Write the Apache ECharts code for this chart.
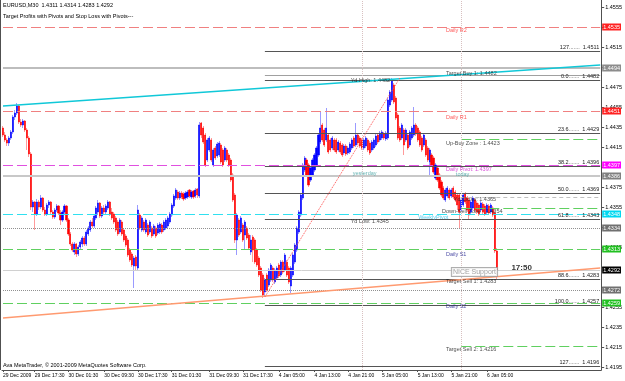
<!DOCTYPE html>
<html><head><meta charset="utf-8">
<script src="https://cdn.jsdelivr.net/npm/echarts@6/dist/echarts.min.js"></script>
<style>html,body{margin:0;padding:0;background:#fff}#c{width:625px;height:381px}</style>
</head><body><div id="c"></div>
<script>
// ---- DATA ----
const titleLine1 = 'EURUSD,M30  1.4311 1.4314 1.4283 1.4292';
const titleLine2 = 'Target Profits with Pivots and Stop Loss with Pivots---';
const footerText = 'Ava MetaTrader, \u00a9 2001-2009 MetaQuotes Software Corp.';

// [open, high, low, close] per M30 bar
const bars = [
[1.4434,1.4436,1.4425,1.4427],[1.4427,1.4430,1.4420,1.4422],[1.4422,1.4424,1.4416,1.4419],[1.4419,1.4426,1.4416,1.4424],[1.4424,1.4432,1.4422,1.4430],
[1.4430,1.4447,1.4428,1.4445],[1.4445,1.4452,1.4442,1.4449],[1.4449,1.4459,1.4447,1.4456],[1.4456,1.4457,1.4438,1.4440],[1.4440,1.4443,1.4435,1.4437],
[1.4437,1.4443,1.4434,1.4441],[1.4441,1.4442,1.4430,1.4432],[1.4432,1.4434,1.4412,1.4424],[1.4424,1.4426,1.4405,1.4408],[1.4408,1.4410,1.4352,1.4355],
[1.4355,1.4362,1.4350,1.4360],[1.4360,1.4361,1.4332,1.4348],[1.4348,1.4363,1.4346,1.4360],[1.4360,1.4362,1.4352,1.4355],[1.4355,1.4367,1.4353,1.4364],
[1.4364,1.4365,1.4350,1.4352],[1.4352,1.4355,1.4346,1.4348],[1.4348,1.4359,1.4346,1.4357],[1.4357,1.4362,1.4354,1.4360],[1.4360,1.4361,1.4348,1.4350],
[1.4350,1.4352,1.4343,1.4345],[1.4345,1.4354,1.4343,1.4352],[1.4352,1.4358,1.4350,1.4356],[1.4356,1.4357,1.4347,1.4349],[1.4349,1.4352,1.4337,1.4342],
[1.4342,1.4352,1.4340,1.4350],[1.4350,1.4358,1.4348,1.4356],[1.4356,1.4357,1.4340,1.4342],[1.4342,1.4344,1.4326,1.4328],[1.4328,1.4330,1.4316,1.4318],
[1.4318,1.4320,1.4310,1.4312],[1.4310,1.4320,1.4307,1.4318],[1.4318,1.4319,1.4305,1.4308],[1.4308,1.4317,1.4306,1.4315],[1.4315,1.4322,1.4312,1.4320],
[1.4318,1.4326,1.4315,1.4324],[1.4324,1.4326,1.4316,1.4318],[1.4318,1.4332,1.4316,1.4330],[1.4328,1.4336,1.4326,1.4334],[1.4332,1.4342,1.4330,1.4340],
[1.4340,1.4344,1.4334,1.4336],[1.4336,1.4348,1.4334,1.4346],[1.4344,1.4356,1.4342,1.4354],[1.4350,1.4362,1.4347,1.4359],[1.4359,1.4360,1.4344,1.4346],
[1.4346,1.4356,1.4344,1.4354],[1.4354,1.4357,1.4348,1.4350],[1.4350,1.4358,1.4348,1.4356],[1.4354,1.4362,1.4352,1.4360],[1.4360,1.4361,1.4346,1.4348],
[1.4350,1.4354,1.4342,1.4344],[1.4348,1.4350,1.4338,1.4340],[1.4344,1.4346,1.4330,1.4332],[1.4340,1.4342,1.4326,1.4328],[1.4330,1.4344,1.4328,1.4342],
[1.4340,1.4342,1.4326,1.4328],[1.4332,1.4334,1.4320,1.4322],[1.4326,1.4328,1.4315,1.4317],[1.4322,1.4324,1.4305,1.4307],[1.4312,1.4314,1.4300,1.4302],
[1.4308,1.4310,1.4295,1.4297],[1.4296,1.4306,1.4274,1.4304],[1.4305,1.4307,1.4292,1.4296],[1.4294,1.4357,1.4292,1.4352],[1.4347,1.4349,1.4332,1.4334],
[1.4332,1.4346,1.4330,1.4344],[1.4340,1.4342,1.4330,1.4332],[1.4330,1.4344,1.4328,1.4342],[1.4337,1.4339,1.4325,1.4327],[1.4330,1.4342,1.4328,1.4340],
[1.4334,1.4336,1.4324,1.4326],[1.4328,1.4338,1.4326,1.4336],[1.4334,1.4336,1.4324,1.4326],[1.4329,1.4339,1.4327,1.4337],[1.4330,1.4340,1.4328,1.4338],
[1.4337,1.4339,1.4328,1.4330],[1.4332,1.4342,1.4330,1.4340],[1.4334,1.4344,1.4332,1.4342],[1.4336,1.4346,1.4334,1.4344],[1.4340,1.4350,1.4338,1.4348],
[1.4347,1.4359,1.4345,1.4357],[1.4356,1.4368,1.4354,1.4366],[1.4364,1.4374,1.4362,1.4372],[1.4370,1.4372,1.4362,1.4364],[1.4364,1.4371,1.4362,1.4369],
[1.4369,1.4371,1.4363,1.4365],[1.4368,1.4370,1.4361,1.4363],[1.4364,1.4371,1.4362,1.4369],[1.4365,1.4372,1.4363,1.4370],[1.4372,1.4373,1.4364,1.4366],
[1.4365,1.4372,1.4363,1.4370],[1.4371,1.4372,1.4363,1.4365],[1.4366,1.4374,1.4364,1.4372],[1.4373,1.4374,1.4364,1.4367],[1.4366,1.4440,1.4364,1.4437],
[1.4439,1.4440,1.4424,1.4427],[1.4434,1.4436,1.4418,1.4420],[1.4427,1.4429,1.4395,1.4397],[1.4402,1.4424,1.4400,1.4422],[1.4412,1.4426,1.4410,1.4424],
[1.4422,1.4424,1.4400,1.4402],[1.4397,1.4414,1.4395,1.4412],[1.4414,1.4416,1.4402,1.4404],[1.4406,1.4420,1.4404,1.4418],[1.4407,1.4421,1.4405,1.4419],
[1.4417,1.4419,1.4398,1.4400],[1.4412,1.4414,1.4395,1.4397],[1.4402,1.4416,1.4400,1.4414],[1.4412,1.4414,1.4400,1.4402],[1.4407,1.4409,1.4395,1.4397],
[1.4402,1.4404,1.4380,1.4382],[1.4387,1.4389,1.4360,1.4362],[1.4367,1.4369,1.4319,1.4322],[1.4322,1.4349,1.4307,1.4347],[1.4342,1.4344,1.4325,1.4327],
[1.4330,1.4346,1.4328,1.4344],[1.4337,1.4339,1.4320,1.4322],[1.4327,1.4342,1.4312,1.4340],[1.4334,1.4336,1.4322,1.4324],[1.4327,1.4329,1.4312,1.4314],
[1.4310,1.4327,1.4307,1.4322],[1.4325,1.4327,1.4300,1.4312],[1.4322,1.4324,1.4298,1.4300],[1.4312,1.4314,1.4295,1.4297],[1.4304,1.4306,1.4285,1.4287],
[1.4294,1.4296,1.4270,1.4272],[1.4287,1.4289,1.4264,1.4267],[1.4270,1.4284,1.4265,1.4282],[1.4287,1.4289,1.4270,1.4272],[1.4277,1.4294,1.4275,1.4292],
[1.4282,1.4299,1.4280,1.4297],[1.4294,1.4296,1.4280,1.4282],[1.4280,1.4294,1.4278,1.4292],[1.4284,1.4296,1.4282,1.4294],[1.4297,1.4299,1.4284,1.4286],
[1.4287,1.4302,1.4285,1.4300],[1.4300,1.4302,1.4288,1.4290],[1.4292,1.4309,1.4290,1.4307],[1.4300,1.4302,1.4285,1.4287],[1.4294,1.4296,1.4278,1.4280],
[1.4276,1.4296,1.4269,1.4294],[1.4287,1.4309,1.4285,1.4307],[1.4300,1.4319,1.4298,1.4317],[1.4312,1.4336,1.4310,1.4334],[1.4330,1.4352,1.4328,1.4350],
[1.4347,1.4369,1.4345,1.4367],[1.4364,1.4399,1.4362,1.4397],[1.4392,1.4406,1.4390,1.4404],[1.4402,1.4404,1.4385,1.4387],[1.4397,1.4399,1.4375,1.4377],
[1.4382,1.4396,1.4380,1.4394],[1.4387,1.4404,1.4385,1.4402],[1.4392,1.4409,1.4390,1.4407],[1.4397,1.4416,1.4395,1.4414],[1.4407,1.4429,1.4405,1.4427],
[1.4420,1.4450,1.4418,1.4434],[1.4437,1.4439,1.4420,1.4422],[1.4432,1.4434,1.4415,1.4417],[1.4422,1.4454,1.4420,1.4434],[1.4427,1.4429,1.4408,1.4410],
[1.4422,1.4424,1.4410,1.4412],[1.4414,1.4426,1.4412,1.4424],[1.4422,1.4424,1.4410,1.4412],[1.4422,1.4424,1.4408,1.4410],[1.4412,1.4422,1.4410,1.4420],
[1.4419,1.4421,1.4408,1.4410],[1.4417,1.4419,1.4405,1.4407],[1.4409,1.4418,1.4407,1.4416],[1.4416,1.4418,1.4406,1.4408],[1.4409,1.4416,1.4407,1.4414],
[1.4410,1.4420,1.4408,1.4418],[1.4414,1.4424,1.4412,1.4422],[1.4424,1.4426,1.4414,1.4416],[1.4417,1.4439,1.4415,1.4427],[1.4427,1.4429,1.4417,1.4419],
[1.4424,1.4426,1.4414,1.4416],[1.4422,1.4424,1.4412,1.4414],[1.4414,1.4424,1.4412,1.4422],[1.4416,1.4426,1.4414,1.4424],[1.4422,1.4424,1.4410,1.4412],
[1.4419,1.4421,1.4407,1.4409],[1.4412,1.4422,1.4410,1.4420],[1.4414,1.4424,1.4412,1.4422],[1.4417,1.4428,1.4415,1.4426],[1.4427,1.4429,1.4418,1.4420],
[1.4422,1.4431,1.4420,1.4429],[1.4424,1.4432,1.4422,1.4430],[1.4428,1.4430,1.4422,1.4424],[1.4423,1.4431,1.4421,1.4429],[1.4424,1.4464,1.4422,1.4462],
[1.4457,1.4472,1.4455,1.4470],[1.4462,1.4484,1.4460,1.4482],[1.4477,1.4479,1.4458,1.4460],[1.4464,1.4466,1.4442,1.4444],[1.4447,1.4449,1.4422,1.4424],
[1.4434,1.4436,1.4420,1.4422],[1.4424,1.4439,1.4422,1.4437],[1.4432,1.4434,1.4407,1.4417],[1.4422,1.4434,1.4420,1.4432],[1.4427,1.4429,1.4412,1.4414],
[1.4417,1.4432,1.4415,1.4430],[1.4424,1.4436,1.4422,1.4434],[1.4427,1.4455,1.4425,1.4437],[1.4437,1.4439,1.4426,1.4428],[1.4434,1.4436,1.4420,1.4422],
[1.4430,1.4432,1.4415,1.4417],[1.4424,1.4426,1.4410,1.4412],[1.4417,1.4429,1.4415,1.4427],[1.4422,1.4424,1.4405,1.4407],[1.4414,1.4416,1.4400,1.4402],
[1.4400,1.4414,1.4387,1.4412],[1.4407,1.4409,1.4395,1.4397],[1.4404,1.4406,1.4388,1.4390],[1.4384,1.4399,1.4382,1.4397],[1.4394,1.4396,1.4380,1.4382],
[1.4387,1.4389,1.4372,1.4374],[1.4380,1.4382,1.4365,1.4367],[1.4374,1.4376,1.4362,1.4364],[1.4362,1.4374,1.4360,1.4372],[1.4366,1.4376,1.4364,1.4374],
[1.4372,1.4374,1.4362,1.4364],[1.4366,1.4374,1.4364,1.4372],[1.4374,1.4376,1.4363,1.4365],[1.4370,1.4372,1.4360,1.4362],[1.4367,1.4369,1.4352,1.4357],
[1.4367,1.4369,1.4334,1.4350],[1.4352,1.4364,1.4350,1.4362],[1.4357,1.4369,1.4355,1.4367],[1.4368,1.4370,1.4358,1.4360],[1.4364,1.4366,1.4350,1.4352],
[1.4362,1.4364,1.4342,1.4347],[1.4350,1.4362,1.4348,1.4360],[1.4354,1.4366,1.4352,1.4364],[1.4362,1.4364,1.4350,1.4352],[1.4359,1.4361,1.4348,1.4350],
[1.4357,1.4359,1.4346,1.4348],[1.4352,1.4361,1.4350,1.4359],[1.4358,1.4360,1.4348,1.4350],[1.4356,1.4358,1.4346,1.4348],[1.4350,1.4359,1.4348,1.4357],
[1.4356,1.4358,1.4347,1.4349],[1.4350,1.4359,1.4348,1.4357],[1.4354,1.4356,1.4345,1.4347],[1.4349,1.4351,1.4309,1.4311],[1.4311,1.4314,1.4283,1.4292]
];
const totalSlots = 302;          // bar slots across the chart incl. right shift
const timeLabels = ['29 Dec 2009','29 Dec 17:30','30 Dec 01:30','30 Dec 09:30','30 Dec 17:30','31 Dec 01:30','31 Dec 09:30','31 Dec 17:30','4 Jan 05:00','4 Jan 13:00','4 Jan 21:00','5 Jan 05:00','5 Jan 13:00','5 Jan 21:00','6 Jan 05:00'];
const timeLabelBars = [0,16,33,51,68,85,104,121,139,157,174,191,209,226,244];
const yMin = 1.4192, yMax = 1.4562;
const yTickValues = [1.4195,1.4215,1.4235,1.4255,1.4275,1.4295,1.4315,1.4335,1.4355,1.4375,1.4395,1.4415,1.4435,1.4455,1.4475,1.4495,1.4515,1.4535,1.4555];
const yLabelValues = [1.4195,1.4215,1.4235,1.4255,1.4315,1.4355,1.4375,1.4415,1.4435,1.4455,1.4475,1.4515,1.4555];

// full-width horizontal levels
const levelNames  = ['Daily R2','HighLine','Daily R1','Daily Pivot','DaySep','Weekly Pivot','GrayA','Daily S1','Bid','GrayB','Daily S2'];
const levelValues = [1.4535,1.4494,1.4451,1.4397,1.4386,1.4348,1.4334,1.4313,1.4292,1.4272,1.4259];

// Fibonacci levels (drawn from the swing low bar to the right edge)
const fibNames  = ['127','0.0','23.6','38.2','50.0','61.8','88.6','100.0','127'];
const fibValues = [1.4511,1.4482,1.4429,1.4396,1.4369,1.4343,1.4283,1.4257,1.4196];
const fibStartBar = 132;
const fibDiag = [[132,1.4265],[200,1.4484]];

// partial zones
const zoneNames  = ['Target Buy 1','Up-Buy Zone','Yd Close','Down-Sell Zone','Target Sell 2'];
const zoneValues = [1.4487,1.4423,1.4365,1.4354,1.4216];
const zoneStartBars = [132,231,231,231,231];

const trendCyan   = [[0,1.4456],[301,1.4497]];
const trendOrange = [[0,1.4244],[301,1.4294]];
const sepBars = [181,231];

const annTexts  = ['Daily R2','Target Buy 1: 1.4482','Yd High: 1.4482','Daily R1','Up-Buy Zone : 1.4423','Daily Pivot: 1.4397','yesterday','today','Yd Close: 1.4365','Down-Sell Zone : 1.4354','WeeklyPivot','Yd Low: 1.4345','Daily S1','Target Sell 1: 1.4283','NICE Support','17:50','Daily S2','Target Sell 2: 1.4216'];
const annBars   = [223,223,175,223,223,223,176,228,227,221,209,175,223,223,226,256,223,223];
const annPrices = [1.4532,1.4489,1.4482,1.4445,1.4419,1.4393,1.4389,1.4388,1.4363,1.4351,1.4345,1.4341,1.4308,1.4281,1.4290,1.4294,1.4256,1.4213];

// ---- STYLES ----
const FS = 5.5;
const levelStyles = {
  'Daily R2':    {line:{color:'#f08080',type:[10,4],width:1}, box:'#ff2020'},
  'HighLine':    {line:{color:'#bdbdbd',type:'solid',width:2}, box:'#8c8c8c'},
  'Daily R1':    {line:{color:'#f08080',type:[10,4],width:1}, box:'#ff2020'},
  'Daily Pivot': {line:{color:'#e050e0',type:[10,4],width:1}, box:'#ff00ff'},
  'DaySep':      {line:{color:'#c8c8c8',type:'solid',width:2}, box:'#808080'},
  'Weekly Pivot':{line:{color:'#30e0f0',type:[10,4],width:1}, box:'#00d8f0'},
  'GrayA':       {line:{color:'#909090',type:'dotted',width:1}, box:'#707070'},
  'Daily S1':    {line:{color:'#60d060',type:[10,4],width:1}, box:'#20c020'},
  'Bid':         {line:{color:'#d0d0d0',type:'solid',width:1}, box:'#000000'},
  'GrayB':       {line:{color:'#909090',type:'dotted',width:1}, box:'#707070'},
  'Daily S2':    {line:{color:'#60d060',type:[10,4],width:1}, box:'#20c020'}
};
const zoneStyles = {
  'Target Buy 1':  {color:'#a0a0a0',type:'solid',width:1},
  'Up-Buy Zone':   {color:'#60d060',type:[10,4],width:1},
  'Yd Close':      {color:'#c0c0c0',type:[4,3],width:1},
  'Down-Sell Zone':{color:'#60d060',type:[10,4],width:1},
  'Target Sell 2': {color:'#60d060',type:[10,4],width:1}
};
const annStyle = {
  'Daily R2':{color:'#ff3030'}, 'Daily R1':{color:'#ff3030'},
  'Daily Pivot: 1.4397':{color:'#d020d0'},
  'yesterday':{color:'#40a0a0'}, 'today':{color:'#40a0a0'},
  'WeeklyPivot':{color:'#30c0e8'},
  'Daily S1':{color:'#202090'}, 'Daily S2':{color:'#202090'},
  'NICE Support':{color:'#8a8a8a',fontSize:7,borderColor:'#9a9a9a',borderWidth:1,padding:[1,1,0,1],backgroundColor:'#fff'},
  '17:50':{color:'#000',fontSize:8,fontWeight:'bold'}
};

// ---- BUILD ----
const cats = Array.from({length: totalSlots}, (_, i) => String(i));
const labelMap = {};
timeLabelBars.forEach((b, i) => { labelMap[b] = timeLabels[i]; });
const wickData = bars.map(b => [b[0], b[3], b[2], b[1]]);
const bodyData = bars.map(b => [b[0], b[3], Math.min(b[0], b[3]), Math.max(b[0], b[3])]);
const lastSlot = totalSlots - 1;

const markData = [];
levelNames.forEach((n, i) => {
  const st = levelStyles[n];
  markData.push([{coord:[0, levelValues[i]], lineStyle: st.line,
    label: {show:true, position:'end', distance:2, formatter: levelValues[i].toFixed(4),
      color:'#fff', backgroundColor: st.box, fontSize: FS, padding:[1,1,0,1]}},
    {coord:[lastSlot, levelValues[i]]}]);
});
fibNames.forEach((n, i) => {
  markData.push([{coord:[fibStartBar, fibValues[i]], lineStyle:{color:'#555',width:1,type:'solid'},
      label:{show:true, position:'insideEndTop', distance:1, formatter: n + '.......  ' + fibValues[i].toFixed(4), color:'#222', fontSize: FS}},
    {coord:[lastSlot, fibValues[i]]}]);
});
zoneNames.forEach((n, i) => {
  markData.push([{coord:[zoneStartBars[i], zoneValues[i]], lineStyle: zoneStyles[n], label:{show:false}},
    {coord:[lastSlot, zoneValues[i]]}]);
});
markData.push([{coord: trendCyan[0], lineStyle:{color:'#10c8d8',width:1.5,type:'solid'}, label:{show:false}}, {coord: trendCyan[1]}]);
markData.push([{coord: trendOrange[0], lineStyle:{color:'#ff9a70',width:1.5,type:'solid'}, label:{show:false}}, {coord: trendOrange[1]}]);
markData.push([{coord: fibDiag[0], lineStyle:{color:'#ff5050',width:1,type:'dotted'}, label:{show:false}}, {coord: fibDiag[1]}]);
sepBars.forEach(b => markData.push({xAxis: b, lineStyle:{color:'#d8c0c0',width:1,type:'dotted'}, label:{show:false}}));

const annData = annTexts.map((t, i) => ({
  value: [annBars[i], annPrices[i]],
  label: Object.assign({show:true, formatter: t, position:'right', distance:0, fontSize: FS, color:'#222'}, annStyle[t] || {})
}));

const chart = echarts.init(document.getElementById('c'), null, {renderer:'canvas'});
chart.setOption({
  animation: false,
  backgroundColor: '#fff',
  textStyle: {fontFamily: 'Liberation Sans'},
  grid: {left: 0, top: 0, width: 604, height: 370, show: false},
  xAxis: {
    type: 'category', data: cats, boundaryGap: true,
    axisLine: {show: true, lineStyle: {color: '#505050'}},
    axisTick: {show: true, alignWithLabel: true, length: 2, interval: (i) => labelMap[i] !== undefined, lineStyle:{color:'#505050'}},
    axisLabel: {interval: (i) => labelMap[i] !== undefined, formatter: (v, i) => labelMap[i] || '', fontSize: 5, color: '#000', align: 'left', margin: 3, hideOverlap: false},
    splitLine: {show: false}
  },
  yAxis: {
    type: 'value', position: 'right', min: yMin, max: yMax,
    axisLine: {show: true, lineStyle: {color: '#505050'}},
    axisTick: {show: true, length: 3, customValues: yTickValues, lineStyle:{color:'#505050'}},
    axisLabel: {customValues: yLabelValues, formatter: (v) => v.toFixed(4), fontSize: FS, color: '#000', margin: 4},
    splitLine: {show: false}
  },
  graphic: [
    {type:'text', left: 3, top: 2, style:{text: titleLine1, fontSize: FS, fill:'#000', fontFamily:'Liberation Sans'}},
    {type:'text', left: 3, top: 13, style:{text: titleLine2, fontSize: FS, fill:'#000', fontFamily:'Liberation Sans'}},
    {type:'text', left: 3, top: 362, style:{text: footerText, fontSize: FS, fill:'#000', fontFamily:'Liberation Sans'}},
    {type:'line', shape:{x1:0.5,y1:0,x2:0.5,y2:370}, style:{stroke:'#505050', lineWidth:1}}
  ],
  series: [
    {type:'line', data: [], clip: false, silent: true,
     markLine: {silent: true, symbol: ['none','none'], animation: false, data: markData}},
    {type:'candlestick', name:'wick', data: wickData, barWidth: 1,
     itemStyle: {color:'#9a9aff', color0:'#ff9a9a', borderColor:'#9a9aff', borderColor0:'#ff9a9a', borderWidth: 1}},
    {type:'candlestick', name:'body', data: bodyData, barWidth: 1.6,
     itemStyle: {color:'#0000ff', color0:'#ff0000', borderColor:'#0000ff', borderColor0:'#ff0000', borderWidth: 0.6}},
    {type:'scatter', data: annData, symbol:'circle', symbolSize: 1, itemStyle:{color:'rgba(0,0,0,0)'}, clip:false, silent:true, z: 5}
  ]
});
</script></body></html>
